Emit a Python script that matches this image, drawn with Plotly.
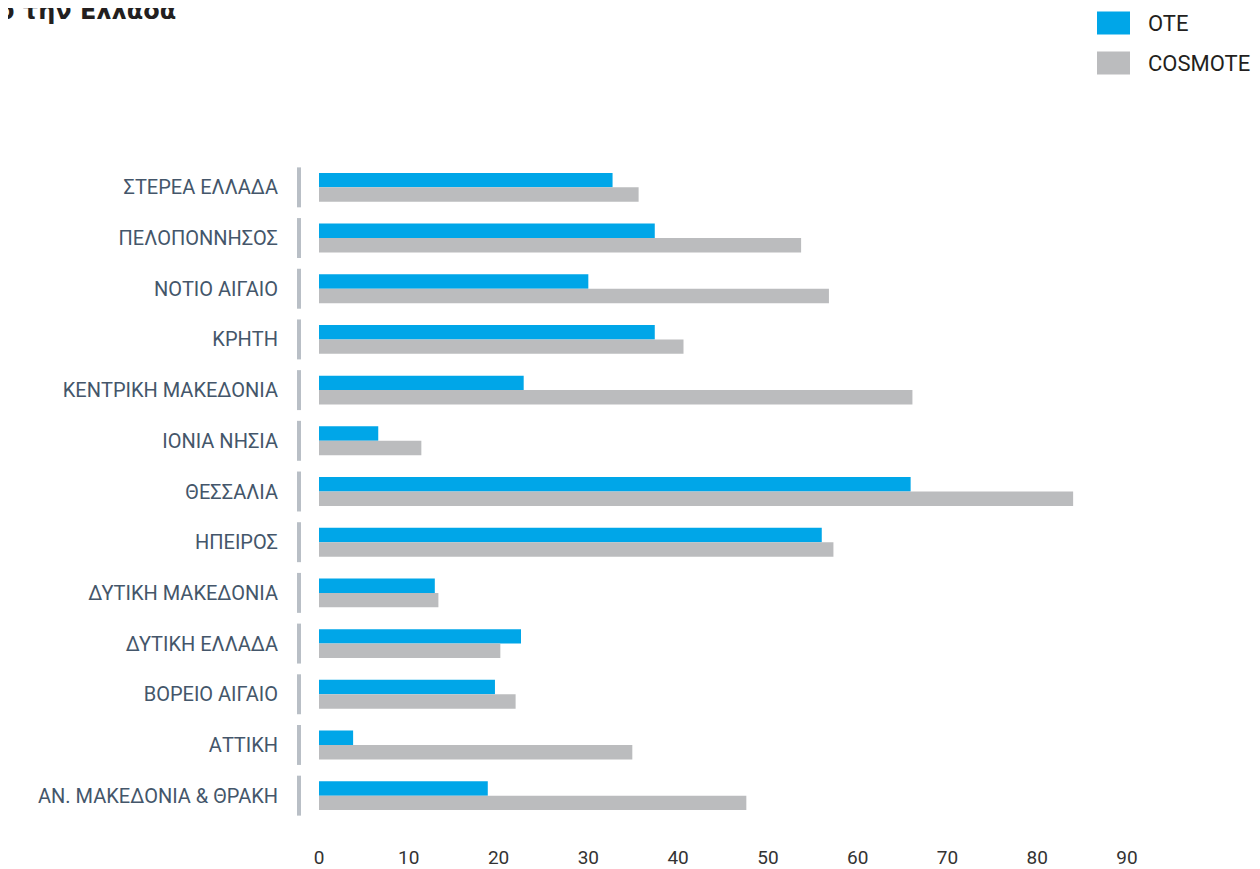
import plotly.graph_objects as go

# Data (top to bottom as in the reference)
regions = [
    "ΣΤΕΡΕΑ ΕΛΛΑΔΑ",
    "ΠΕΛΟΠΟΝΝΗΣΟΣ",
    "ΝΟΤΙΟ ΑΙΓΑΙΟ",
    "ΚΡΗΤΗ",
    "ΚΕΝΤΡΙΚΗ ΜΑΚΕΔΟΝΙΑ",
    "ΙΟΝΙΑ ΝΗΣΙΑ",
    "ΘΕΣΣΑΛΙΑ",
    "ΗΠΕΙΡΟΣ",
    "ΔΥΤΙΚΗ ΜΑΚΕΔΟΝΙΑ",
    "ΔΥΤΙΚΗ ΕΛΛΑΔΑ",
    "ΒΟΡΕΙΟ ΑΙΓΑΙΟ",
    "ΑΤΤΙΚΗ",
    "ΑΝ. ΜΑΚΕΔΟΝΙΑ & ΘΡΑΚΗ",
]
ote = [32.7, 37.4, 30.0, 37.4, 22.8, 6.6, 65.9, 56.0, 12.9, 22.5, 19.6, 3.8, 18.8]
cosmote = [35.6, 53.7, 56.8, 40.6, 66.1, 11.4, 84.0, 57.3, 13.3, 20.2, 21.9, 34.9, 47.6]
x_ticks = [0, 10, 20, 30, 40, 50, 60, 70, 80, 90]
title_tail = "ο την Ελλάδα"

BLUE = "#00a6e8"
GRAY = "#bbbcbe"

W, H = 1260, 869
OFF = 8  # page body offset
# desired page-pixel geometry
P_LEFT, P_RIGHT, P_TOP, P_BOTTOM = 319, 1127, 161.6, 821.4
ml = P_LEFT - OFF
mt = P_TOP - OFF
mr = W - (P_RIGHT - OFF)
mb = H - (P_BOTTOM - OFF)
ph = P_BOTTOM - P_TOP
pw = P_RIGHT - P_LEFT


def px_x(xp):
    return (xp - P_LEFT) / pw


def px_y(yp):
    return 1 - (yp - P_TOP) / ph


fig = go.Figure()
fig.add_trace(go.Bar(y=regions, x=ote, name="OTE", orientation="h",
                     marker=dict(color=BLUE, line=dict(width=0))))
fig.add_trace(go.Bar(y=regions, x=cosmote, name="COSMOTE", orientation="h",
                     marker=dict(color=GRAY, line=dict(width=0))))

n = len(regions)
shapes = []
# vertical separator bars left of each category
for k in range(n):
    yc = 1 - (k + 0.5) / n
    half = 20 / ph
    shapes.append(dict(type="rect", xref="paper", yref="paper",
                       x0=px_x(297), x1=px_x(301),
                       y0=yc - half, y1=yc + half,
                       fillcolor="#b9bfc6", line=dict(width=0), layer="above"))

# custom legend
legend_items = [("OTE", BLUE, 22.5), ("COSMOTE", GRAY, 62.5)]
annotations = []
for label, col, ycen in legend_items:
    shapes.append(dict(type="rect", xref="paper", yref="paper",
                       x0=px_x(1097), x1=px_x(1130),
                       y0=px_y(ycen + 11.5), y1=px_y(ycen - 11.5),
                       fillcolor=col, line=dict(width=0)))
    annotations.append(dict(text=label, xref="paper", yref="paper",
                            x=px_x(1146), y=px_y(ycen),
                            xanchor="left", yanchor="middle", showarrow=False,
                            font=dict(family="Roboto", size=22, color="#231f20")))

annotations.append(dict(text="<b>" + title_tail + "</b>", xref="paper", yref="paper",
                        x=px_x(178), y=px_y(26.5),
                        xanchor="right", yanchor="bottom", showarrow=False,
                        font=dict(family="DejaVu Sans", size=24, color="#231f20")))

fig.update_layout(
    width=W, height=H,
    margin=dict(l=ml, r=mr, t=mt, b=mb, pad=0),
    paper_bgcolor="white", plot_bgcolor="white",
    barmode="group", bargap=0.43, bargroupgap=0,
    showlegend=False,
    shapes=shapes, annotations=annotations,
    xaxis=dict(range=[0, 90], tickvals=x_ticks, showgrid=False, zeroline=False,
               showline=False, ticks="", ticklabelstandoff=23, automargin=False,
               tickfont=dict(family="Roboto", size=19, color="#333333")),
    yaxis=dict(autorange="reversed", showgrid=False, zeroline=False, showline=False,
               ticks="", ticklabelstandoff=40, automargin=False,
               tickfont=dict(family="Roboto", size=20, color="#44566a")),
)

fig.write_html("out.html")
